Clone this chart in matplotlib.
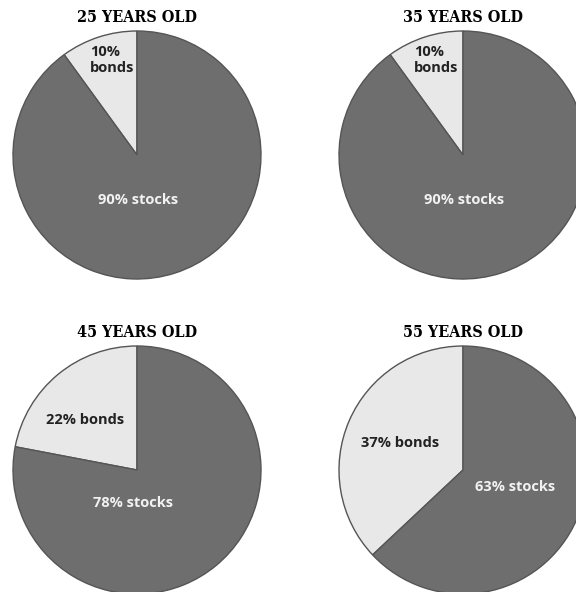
import matplotlib.pyplot as plt

# allocation by age
ages = ['25 YEARS OLD', '35 YEARS OLD', '45 YEARS OLD', '55 YEARS OLD']
bonds = [10, 10, 22, 37]
stocks = [90, 90, 78, 63]
bond_labels = ['10%\nbonds', '10%\nbonds', '22% bonds', '37% bonds']
stock_labels = ['90% stocks', '90% stocks', '78% stocks', '63% stocks']

W, H = 576, 592
R = 124  # pie radius in pixels
centers = [(137, 155), (463, 155), (137, 470), (463, 470)]
# label anchor offsets from pie centre (pixels), bonds are left anchored
bond_pos = [(-47, -95), (-49, -95), (-91, -50), (-102, -27)]
stock_pos = [(1, 45), (1, 45), (-4, 33), (52, 17)]

dark = '#6e6e6e'
light = '#e8e8e8'

fig = plt.figure(figsize=(W / 100, H / 100), dpi=100)
fig.patch.set_facecolor('white')

for i in range(4):
    cx, cy = centers[i]
    ax = fig.add_axes([(cx - R) / W, (H - cy - R) / H, 2 * R / W, 2 * R / H])
    ax.pie([bonds[i], stocks[i]], colors=[light, dark], startangle=90,
           counterclock=True, radius=1,
           wedgeprops=dict(edgecolor='#555555', linewidth=1.0))
    ax.set_xlim(-1, 1)
    ax.set_ylim(-1, 1)
    ax.set_aspect('equal')
    ax.axis('off')
    bx, by = bond_pos[i]
    sx, sy = stock_pos[i]
    ax.text(bx / R, -by / R, bond_labels[i], ha='left', va='center',
            fontsize=10.5, color='#222222', family='Open Sans', weight='bold',
            linespacing=1.25)
    ax.text(sx / R, -sy / R, stock_labels[i], ha='center', va='center',
            fontsize=10.5, color='#f2f2f2', family='Open Sans', weight='bold')
    ax.text(0, 1 + 14 / R, ages[i], ha='center', va='center', fontsize=11.5,
            family='DejaVu Serif', weight='heavy', stretch='condensed',
            color='#000000', clip_on=False)

fig.savefig('out.png', dpi=100)
